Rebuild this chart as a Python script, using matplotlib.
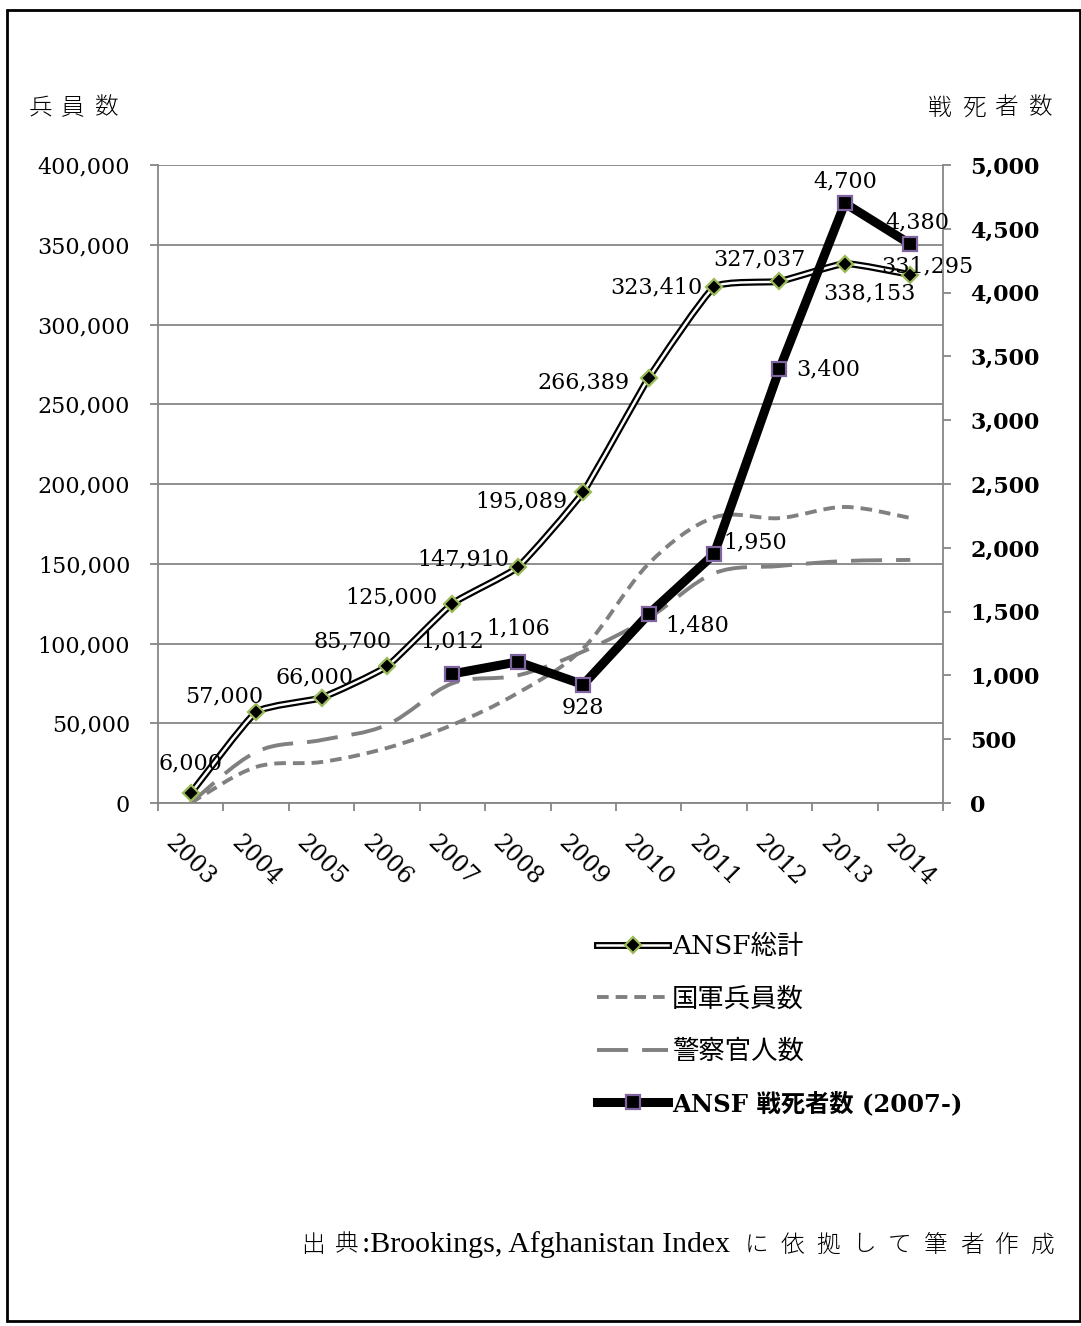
import numpy as np
import matplotlib
matplotlib.use("Agg")
import matplotlib.pyplot as plt
from matplotlib.path import Path
from matplotlib.patches import PathPatch, Rectangle
from matplotlib.lines import Line2D
from matplotlib.legend_handler import HandlerTuple
from matplotlib.ticker import FuncFormatter

# ---- data ----
years = ["2003", "2004", "2005", "2006", "2007", "2008",
         "2009", "2010", "2011", "2012", "2013", "2014"]
ansf_total = [6000, 57000, 66000, 85700, 125000, 147910,
              195089, 266389, 323410, 327037, 338153, 331295]
army_personnel = [0, 22600, 25700, 34500, 49000, 69000,
                  97000, 150000, 179000, 178600, 185600, 178700]
police_personnel = [0, 32000, 39500, 49000, 75000, 80000,
                    95000, 116000, 144000, 148600, 151700, 152400]
casualty_years = years[4:]
casualties = [1012, 1106, 928, 1480, 1950, 3400, 4700, 4380]

# label offsets in pixels (dx, dy; dy positive = up)
total_label_offsets = [(0, 30), (-32, 16), (-7, 20), (-34, 25), (-61, 6), (-54, 8),
                       (-62, -10), (-65, -4), (-58, 0), (-20, 22), (25, -30), (17, 8)]
casualty_label_offsets = [(0, 32), (0, 33), (0, -23), (49, -11), (41, 12),
                          (49, 0), (0, 22), (7, 22)]

GRAY = "#868686"
SERIF = ["DejaVu Serif", "Noto Sans CJK JP"]
CJK = ["Noto Sans CJK JP", "DejaVu Sans"]

W, H = 1081, 1326
fig = plt.figure(figsize=(W / 100, H / 100), dpi=100)
ax = fig.add_axes([158 / W, 1 - 803 / H, (943 - 158) / W, (803 - 165) / H])
ax2 = ax.twinx()

x = np.arange(len(years))
xc = np.arange(4, 4 + len(casualties))


def smooth_path(xs, ys, tension=1 / 6):
    """Cubic Bezier path through the points (Catmull-Rom style tangents)."""
    pts = np.column_stack([xs, ys]).astype(float)
    n = len(pts)
    verts = [pts[0]]
    codes = [Path.MOVETO]
    for i in range(n - 1):
        p0 = pts[i - 1] if i > 0 else pts[i]
        p1 = pts[i]
        p2 = pts[i + 1]
        p3 = pts[i + 2] if i + 2 < n else pts[i + 1]
        verts += [p1 + (p2 - p0) * tension, p2 - (p3 - p1) * tension, p2]
        codes += [Path.CURVE4] * 3
    return Path(verts, codes)


# ---- left axis: personnel ----
ax.set_xlim(-0.5, 11.5)
ax.set_ylim(0, 400000)
ax.set_yticks(np.arange(0, 400001, 50000))
ax.yaxis.set_major_formatter(FuncFormatter(lambda v, p: f"{int(v):,}"))
ax.yaxis.grid(True, color=GRAY, lw=1.3, zorder=0)
ax.set_axisbelow(True)

ax.add_patch(PathPatch(smooth_path(x, police_personnel), fill=False, ec="#808080",
                       lw=2.8, ls=(0, (8, 3.6)), zorder=2, capstyle="butt"))
ax.add_patch(PathPatch(smooth_path(x, army_personnel), fill=False, ec="#808080",
                       lw=2.8, ls=(0, (3, 1.8)), zorder=2, capstyle="butt"))
total_path = smooth_path(x, ansf_total, tension=1 / 14)
ax.add_patch(PathPatch(total_path, fill=False, ec="black", lw=5.0, zorder=3))
ax.add_patch(PathPatch(total_path, fill=False, ec="white", lw=1.8, zorder=3))
ax.plot(x, ansf_total, ls="none", marker="D", ms=8, mfc="black",
        mec="#9BBB59", mew=1.6, zorder=4)

for xi, v, (dx, dy) in zip(x, ansf_total, total_label_offsets):
    ax.annotate(f"{v:,}", (xi, v), xytext=(dx, dy), textcoords="offset pixels",
                ha="center", va="center", fontsize=16, family="DejaVu Serif",
                zorder=5)

# x ticks: marks on category boundaries, labels at centres
ax.set_xticks(np.arange(-0.5, 12, 1))
ax.set_xticklabels([])
ax.set_xticks(x, minor=True)
ax.set_xticklabels(years, minor=True, rotation=-45, ha="center", va="top",
                   fontsize=17, family="DejaVu Serif")
ax.tick_params(axis="x", which="major", length=6, width=1.3, color=GRAY,
               direction="out")
ax.tick_params(axis="x", which="minor", length=0, pad=20)
ax.tick_params(axis="y", length=6, width=1.3, color=GRAY, labelsize=16, pad=14)
for lab in ax.get_yticklabels():
    lab.set_family("DejaVu Serif")

for s in ("top", "right"):
    ax.spines[s].set_visible(False)
for s in ("left", "bottom"):
    ax.spines[s].set_color(GRAY)
    ax.spines[s].set_linewidth(1.3)

# ---- right axis: casualties ----
ax2.set_ylim(0, 5000)
ax2.set_yticks(np.arange(0, 5001, 500))
ax2.yaxis.set_major_formatter(FuncFormatter(lambda v, p: f"{int(v):,}"))
ax2.tick_params(axis="y", length=6, width=1.3, color=GRAY, labelsize=16, pad=13.5)
for lab in ax2.get_yticklabels():
    lab.set_family("DejaVu Serif")
    lab.set_fontweight("bold")
for s in ("top", "left", "bottom"):
    ax2.spines[s].set_visible(False)
ax2.spines["right"].set_color(GRAY)
ax2.spines["right"].set_linewidth(1.3)

ax2.plot(xc, casualties, color="black", lw=6.5, marker="s", ms=10, mfc="black",
         mec="#8064A2", mew=1.6, zorder=6, solid_joinstyle="miter")
for xi, v, (dx, dy) in zip(xc, casualties, casualty_label_offsets):
    ax2.annotate(f"{v:,}", (xi, v), xytext=(dx, dy), textcoords="offset pixels",
                 ha="center", va="center", fontsize=16, family="DejaVu Serif",
                 zorder=7)

# ---- axis titles ----
for ch, cx in zip("兵員数", [40, 73, 107]):
    fig.text(cx / W, 1 - 108 / H, ch, ha="center", va="center", fontsize=17,
             family=CJK, fontweight="light")
for ch, cx in zip("戦死者数", [940, 974, 1006, 1041]):
    fig.text(cx / W, 1 - 108 / H, ch, ha="center", va="center", fontsize=17,
             family=CJK, fontweight="light")

# ---- legend ----
h_total = (Line2D([], [], color="black", lw=5),
           Line2D([], [], color="white", lw=1.8, marker="D", ms=8,
                  mfc="black", mec="#9BBB59", mew=1.6))
h_army = Line2D([], [], color="#808080", lw=2.8, ls=(0, (3, 1.8)))
h_police = Line2D([], [], color="#808080", lw=2.8, ls=(0, (8, 3.6)))
h_cas = Line2D([], [], color="black", lw=6.5, marker="s", ms=10, mfc="black",
               mec="#8064A2", mew=1.6)
leg = fig.legend([h_total, h_army, h_police, h_cas],
                 ["ANSF総計", "国軍兵員数", "警察官人数", "ANSF 戦死者数 (2007-)"],
                 handler_map={tuple: HandlerTuple(ndivide=1)},
                 loc="upper left", bbox_to_anchor=(597 / W, 1 - 934 / H),
                 frameon=False, prop={"family": SERIF, "size": 19},
                 handlelength=2.7, handletextpad=0.15, labelspacing=1.04,
                 borderpad=0, borderaxespad=0)
leg.get_texts()[3].set_fontweight("bold")
leg.get_texts()[3].set_fontsize(17.5)

# ---- source note ----
note_y = 1 - 1245 / H
for ch, cx in zip("出典", [313, 347]):
    fig.text(cx / W, note_y, ch, ha="center", va="center", fontsize=17,
             family=CJK, fontweight="light")
fig.text(362 / W, note_y, ":Brookings, Afghanistan Index", ha="left", va="center",
         fontsize=21.5, family="Liberation Serif")
for i, ch in enumerate("に依拠して筆者作成"):
    fig.text((757 + i * 35.75) / W, note_y, ch, ha="center", va="center",
             fontsize=17, family=CJK, fontweight="light")

# ---- outer frame ----
fig.add_artist(Rectangle((7 / W, 1 - 1321 / H), (1080 - 7) / W, (1321 - 10) / H,
                         transform=fig.transFigure, fill=False, ec="black",
                         lw=2.0))

fig.savefig("out.png", dpi=100)
